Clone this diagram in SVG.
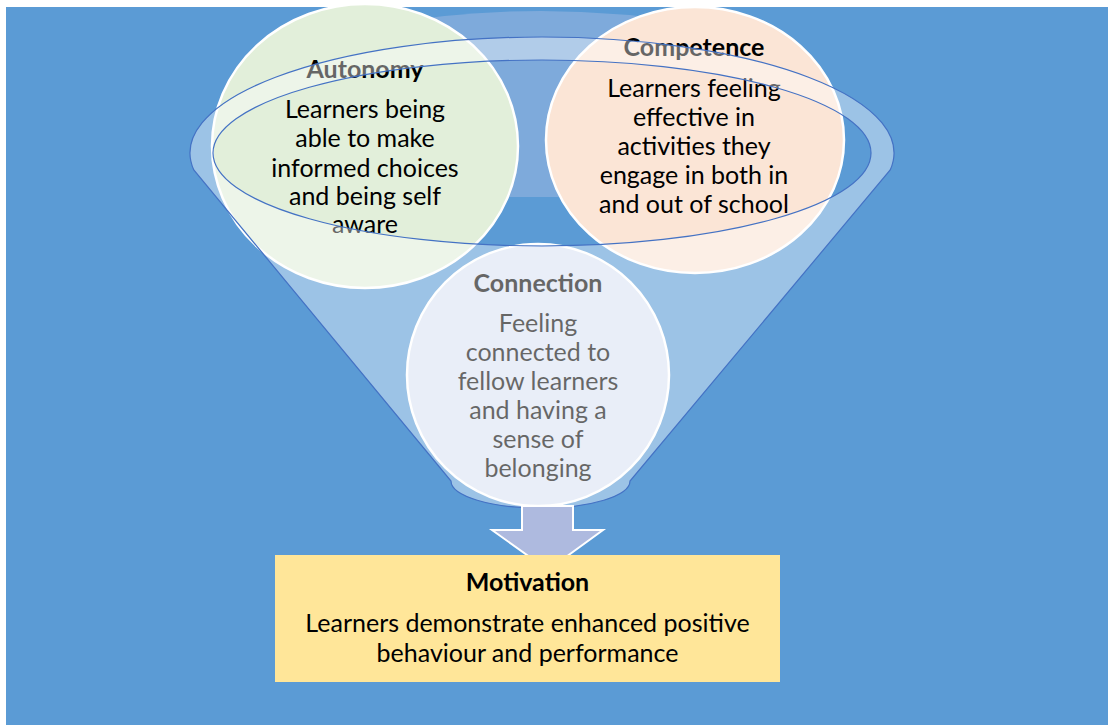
<svg xmlns="http://www.w3.org/2000/svg" width="1108" height="725" viewBox="0 0 1108 725">
  <defs>
    <style>
      .bg { fill: #5b9bd5; }
      .bubble { stroke: #ffffff; stroke-width: 2.5; }
      .title { font-family: Lato, "Liberation Sans", sans-serif; font-weight: bold; font-size: 25px; fill: #000000; text-anchor: middle; }
      .body { font-family: Lato, "Liberation Sans", sans-serif; font-size: 25px; fill: #000000; text-anchor: middle; }
      .funnel { fill: #ffffff; fill-opacity: 0.4; fill-rule: evenodd; stroke: #4472c4; stroke-width: 1.2; }
      .arrow { fill: #aebadf; stroke: #ffffff; stroke-width: 2; }
      .result { fill: #ffe699; }
    </style>
  </defs>

  <!-- page background -->
  <rect x="0" y="0" width="1108" height="725" fill="#ffffff"/>
  <rect class="bg" x="6" y="7" width="1102" height="718"/>

  <!-- shaded upper interior of the funnel mouth -->
  <path id="funnel-mouth-shade" d="M 380 197 L 380 25 Q 541 -3 702 25 L 702 197 Z" fill="#7eaadb"/>

  <g id="autonomy">
    <ellipse class="bubble" cx="365" cy="146" rx="153" ry="142" fill="#e2efda"/>
    <text class="title" x="365" y="78">Autonomy</text>
    <text class="body" x="365" y="118">Learners being</text>
    <text class="body" x="365" y="147">able to make</text>
    <text class="body" x="365" y="177">informed choices</text>
    <text class="body" x="365" y="205">and being self</text>
    <text class="body" x="365" y="233">aware</text>
  </g>

  <g id="competence">
    <ellipse class="bubble" cx="695" cy="140" rx="149" ry="133" fill="#fbe5d6"/>
    <text class="title" x="694" y="56">Competence</text>
    <text class="body" x="694" y="97">Learners feeling</text>
    <text class="body" x="694" y="126">effective in</text>
    <text class="body" x="694" y="155">activities they</text>
    <text class="body" x="694" y="184">engage in both in</text>
    <text class="body" x="694" y="213">and out of school</text>
  </g>

  <g id="connection">
    <circle class="bubble" cx="538" cy="375" r="131" fill="#dae3f3"/>
    <text class="title" x="538" y="292">Connection</text>
    <text class="body" x="538" y="332">Feeling</text>
    <text class="body" x="538" y="361">connected to</text>
    <text class="body" x="538" y="390">fellow learners</text>
    <text class="body" x="538" y="419">and having a</text>
    <text class="body" x="538" y="448">sense of</text>
    <text class="body" x="538" y="477">belonging</text>
  </g>

  <g id="connectors">
    <!-- translucent funnel: ring mouth plus cone -->
    <path id="funnel" class="funnel" d="M 193.8 170 A 352 116 0 1 1 890.2 170 L 630 481 A 89 27 0 0 1 451 481 Z M 213 153 A 329 93 0 1 0 871 153 A 329 93 0 1 0 213 153 Z"/>
    <!-- down arrow into the result box -->
    <path id="down-arrow" class="arrow" d="M 522 506 L 573 506 L 573 530 L 603 530 L 548 570 L 492 530 L 522 530 Z"/>
  </g>

  <g id="motivation">
    <rect class="result" x="275" y="555" width="505" height="127"/>
    <text class="title" x="527.5" y="591">Motivation</text>
    <text class="body" x="527.5" y="632">Learners demonstrate enhanced positive</text>
    <text class="body" x="527.5" y="662">behaviour and performance</text>
  </g>
</svg>
